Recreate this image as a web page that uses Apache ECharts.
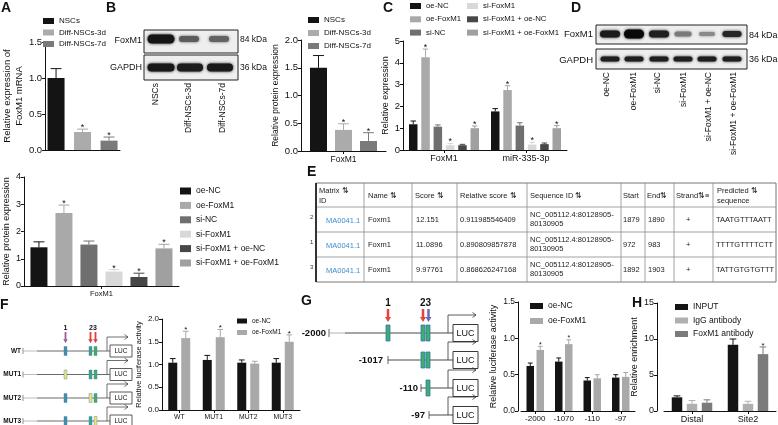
<!DOCTYPE html>
<html><head><meta charset="utf-8">
<script src="https://cdn.jsdelivr.net/npm/echarts@6/dist/echarts.min.js"></script>
<style>html,body{margin:0;padding:0;background:#fff}#c{width:778px;height:425px}</style>
</head><body><div id="c"></div>
<script>
// ================= DATA =================
const groupsSix = ['oe-NC','oe-FoxM1','si-NC','si-FoxM1','si-FoxM1 + oe-NC','si-FoxM1 + oe-FoxM1'];
const sixColors = ['#141414','#a9a9a9','#6f6f6f','#d8d8d8','#474747','#a0a0a0'];

// Panel A – FoxM1 mRNA
const aSeries = ['NSCs','Diff-NSCs-3d','Diff-NSCs-7d'];
const aValues = [1.0, 0.25, 0.13];
const aErrors = [1.13, 0.29, 0.18];
const aStars  = [0, 1, 1];
const aTicks  = [0, 0.5, 1.0, 1.5];

// Panel B – blot + protein bar
const bLanes = ['NSCs','Diff-NSCs-3d','Diff-NSCs-7d'];
const bCategories = ['FoxM1'];
const bValues = [1.5, 0.38, 0.18];
const bErrors = [1.72, 0.49, 0.33];
const bStars  = [0, 1, 1];
const bTicks  = [0, 0.5, 1.0, 1.5, 2.0];

// Panel C – relative expression
const cCategories = ['FoxM1','miR-335-3p'];
const cValues = [[1.18,1.77],[4.25,2.75],[1.07,1.12],[0.22,0.25],[0.22,0.27],[1.0,1.0]];
const cErrors = [[1.33,1.90],[4.63,2.95],[1.15,1.25],[0.30,0.35],[0.26,0.32],[1.10,1.12]];
const cStars  = [[0,0],[1,1],[0,0],[1,1],[0,0],[1,1]];
const cTicks  = [0,1,2,3,4,5];

// Panel D – blot lanes
const dLanes = groupsSix;

// Bottom-left – relative protein expression
const pCategories = ['FoxM1'];
const pValues = [1.42, 2.68, 1.52, 0.53, 0.33, 1.38];
const pErrors = [1.62, 2.97, 1.65, 0.60, 0.47, 1.53];
const pStars  = [0, 1, 0, 1, 1, 1];
const pTicks  = [0,1,2,3,4];

// Panel E – table
const tHeaders   = ['Matrix ⇅\nID','Name ⇅','Score ⇅','Relative score ⇅','Sequence ID ⇅','Start','End⇅','Strand⇅≡','Predicted ⇅\nsequence'];
const tRowIds    = ['2','1','3'];
const tMatrix    = ['MA0041.1','MA0041.1','MA0041.1'];
const tNames     = ['Foxm1','Foxm1','Foxm1'];
const tScores    = ['12.151','11.0896','9.97761'];
const tRelScores = ['0.911985546409','0.890809857878','0.868626247168'];
const tSeqIds    = ['NC_005112.4:80128905-\n80130905','NC_005112.4:80128905-\n80130905','NC_005112.4:80128905-\n80130905'];
const tStarts    = ['1879','972','1892'];
const tEnds      = ['1890','983','1903'];
const tStrands   = ['+','+','+'];
const tPredicted = ['TAATGTTTAATT','TTTTGTTTTCTT','TATTGTGTGTTT'];

// Panel F – luciferase (constructs)
const fCategories = ['WT','MUT1','MUT2','MUT3'];
const fSeries = ['oe-NC','oe-FoxM1'];
const fValues = [[1.04,1.10,1.04,1.04],[1.58,1.60,1.02,1.50]];
const fErrors = [[1.13,1.20,1.10,1.13],[1.73,1.77,1.07,1.65]];
const fStars  = [[0,0,0,0],[1,1,0,1]];
const fMutated = [-1, 0, 1, 2];
const fSites = ['1','23'];

// Panel G – luciferase (truncations)
const gConstructs = ['-2000','-1017','-110','-97'];
const gSitesPresent = [[0,1,2],[1,2],[2],[]];
const gCategories = ['-2000','-1070','-110','-97'];
const gSeries = ['oe-NC','oe-FoxM1'];
const gValues = [[0.62,0.68,0.42,0.46],[0.84,0.92,0.45,0.47]];
const gErrors = [[0.66,0.73,0.46,0.50],[0.89,0.98,0.50,0.53]];
const gStars  = [[0,0,0,0],[1,1,0,0]];

// Panel H – ChIP enrichment
const hCategories = ['Distal','Site2'];
const hSeries = ['INPUT','IgG antibody','FoxM1 antibody'];
const hValues = [[1.9,9.2],[1.0,1.0],[1.15,7.9]];
const hErrors = [[2.1,10.0],[1.45,1.35],[1.55,8.9]];
const hStars  = [[0,0],[0,0],[0,1]];

// ================= BUILD =================
const FONT = "'Liberation Sans', Arial, sans-serif";
const grids=[], xAxes=[], yAxes=[], series=[], legends=[], G=[];

function addPanel(p){
  const gi = grids.length, n = p.names.length, w = p.barW, g = p.gap;
  grids.push({left:p.left, top:p.top, width:p.width, height:p.height});
  xAxes.push({gridIndex:gi, type:'category', data:p.categories,
    axisLine:{show:true, lineStyle:{color:'#111', width:1}},
    axisTick:{show:p.xTick!==false, alignWithLabel:true, length:3, lineStyle:{color:'#111'}},
    axisLabel:{show:!!p.xFont, fontSize:p.xFont||8, color:'#111', margin:4, interval:0, fontFamily:FONT},
    splitLine:{show:false}});
  yAxes.push({gridIndex:gi, type:'value', min:p.ticks[0], max:p.ticks[p.ticks.length-1], interval:p.ticks[1]-p.ticks[0],
    offset:p.yOffset||0, name:p.yName, nameLocation:'middle', nameGap:p.nameGap,
    nameTextStyle:{fontSize:p.nameFont, color:'#111', fontFamily:FONT, lineHeight:p.nameLH||(p.nameFont+2)},
    axisLine:{show:true, lineStyle:{color:'#111', width:1}},
    axisTick:{show:true, length:3, lineStyle:{color:'#111'}},
    axisLabel:{fontSize:p.yFont, color:'#111', margin:3, fontFamily:FONT, formatter:v=>v.toFixed(p.dec)},
    splitLine:{show:false}});
  const errData=[];
  p.names.forEach((nm,s)=>{
    series.push({type:'bar', name:nm, xAxisIndex:gi, yAxisIndex:gi, barWidth:w, barGap:(g/w*100)+'%',
      itemStyle:{color:p.colors[s]}, data:p.values[s], silent:true, animation:false});
    p.values[s].forEach((v,c)=>errData.push([c, v, p.errors[s][c], s, p.stars[s][c]?1:0]));
  });
  series.push({type:'custom', name:'err'+gi, xAxisIndex:gi, yAxisIndex:gi, data:errData, encode:{x:0,y:2}, silent:true, z:3, animation:false,
    renderItem:(params, api)=>{
      const c=api.value(0), v=api.value(1), e=api.value(2), s=api.value(3), st=api.value(4);
      const base=api.coord([c,0]);
      const total=n*w+(n-1)*g;
      const x=base[0]-total/2+s*(w+g)+w/2;
      const yv=api.coord([c,v])[1], ye=api.coord([c,e])[1];
      const col=p.colors[s], cw=w*0.32;
      const ch=[
        {type:'line', shape:{x1:x,y1:yv,x2:x,y2:ye}, style:{stroke:col,lineWidth:1}},
        {type:'line', shape:{x1:x-cw,y1:ye,x2:x+cw,y2:ye}, style:{stroke:col,lineWidth:1}}
      ];
      if(st) ch.push({type:'text', style:{text:'*', x:x, y:ye-1.5, align:'center', verticalAlign:'middle', fontSize:p.starFont||9, fill:'#111', fontFamily:FONT}});
      return {type:'group', children:ch};
    }});
}
function addLegend(names, left, top, o){
  legends.push({data:names, orient:'vertical', left, top, itemWidth:o.iw, itemHeight:o.ih, itemGap:o.gap,
    icon:'rect', selectedMode:false, padding:0,
    textStyle:{fontSize:o.fs, lineHeight:o.lh, color:'#111', fontFamily:FONT}});
}

// graphic helpers
function txt(x,y,text,o={}){ G.push({type:'text', x, y, rotation:o.rot||0, silent:true, z:20,
  style:{text, fill:o.color||'#111', fontSize:o.size||8, fontFamily:FONT, fontWeight:o.bold?'bold':'normal',
  align:o.align||'left', verticalAlign:o.va||'middle', lineHeight:o.lh||undefined}}); }
function rect(x,y,w,h,o={}){ G.push({type:'rect', silent:true, z:o.z||10, shape:{x,y,width:w,height:h,r:o.r||0},
  style:{fill:o.fill||'none', stroke:o.stroke||'none', lineWidth:o.lw||1, shadowBlur:o.blur||0, shadowColor:o.blur?(o.fill):'transparent'}}); }
function line(x1,y1,x2,y2,o={}){ G.push({type:'line', silent:true, z:o.z||10, shape:{x1,y1,x2,y2}, style:{stroke:o.color||'#111', lineWidth:o.lw||1}}); }
function pline(points,o={}){ G.push({type:'polyline', silent:true, z:o.z||10, shape:{points}, style:{stroke:o.color||'#111', lineWidth:o.lw||1, fill:'none'}}); }
function poly(points,o={}){ G.push({type:'polygon', silent:true, z:o.z||10, shape:{points}, style:{fill:o.fill||'#111'}}); }
function downArrow(cx,y0,y1,color,sw,hw){ const hh=hw*0.85;
  poly([[cx-sw/2,y0],[cx+sw/2,y0],[cx+sw/2,y1-hh],[cx+hw/2,y1-hh],[cx,y1],[cx-hw/2,y1-hh],[cx-sw/2,y1-hh]],{fill:color}); }
function promoterArrow(x,yl,yt,xe,lw){ pline([[x,yl],[x,yt],[xe,yt]],{color:'#333',lw:lw});
  pline([[xe-3.5,yt-2.5],[xe,yt],[xe-3.5,yt+2.5]],{color:'#333',lw:lw}); }
function band(cx,cy,w,h,color){ rect(cx-w/2, cy-h/2, w, h, {fill:color, r:h/2, blur:3, z:12}); }

// ---- panel letters
[['A',1,1],['B',106,1],['C',383,1],['D',571,1],['E',307,165],['F',0,298],['G',301,294],['H',632,296]]
  .forEach(([t,x,y])=>txt(x,y,t,{size:14,bold:true,va:'top'}));

// ---- A
addPanel({left:37, top:42, width:83, height:108, categories:[''], names:aSeries, colors:['#141414','#ababab','#7a7a7a'],
  values:aValues.map(v=>[v]), errors:aErrors.map(v=>[v]), stars:aStars.map(v=>[v]),
  ticks:aTicks, dec:1, barW:17, gap:9.5, xTick:false, xFont:0, yFont:9.5,
  yName:'Relative expression of\nFoxM1 mRNA', nameGap:14, nameFont:9.5, nameLH:12});
addLegend(aSeries, 43, 16, {iw:11, ih:6, gap:1.5, fs:8, lh:10});

// ---- B blot
rect(144,30,94,23,{fill:'#eeeeee', stroke:'#222', lw:1});
rect(144,55,94,25,{fill:'#eeeeee', stroke:'#222', lw:1});
band(161,39,27,9,'#151515'); band(189,39,20,6,'#5c5c5c'); band(219,39,20,6,'#626262');
band(161,67.5,27,8,'#181818'); band(190,67.5,26,8,'#1c1c1c'); band(220,67.5,26,8,'#1a1a1a');
txt(142,41,'FoxM1',{align:'right',size:9}); txt(142,68,'GAPDH',{align:'right',size:9});
txt(240,40,'84 kDa',{size:8.5}); txt(240,68,'36 kDa',{size:8.5});
[155.5,189,223].forEach((x,i)=>txt(x,83,bLanes[i],{rot:Math.PI/2, align:'right', size:8.5}));

// ---- B bar
addPanel({left:301, top:40, width:85, height:111, categories:bCategories, names:aSeries, colors:['#141414','#ababab','#7a7a7a'],
  values:bValues.map(v=>[v]), errors:bErrors.map(v=>[v]), stars:bStars.map(v=>[v]),
  ticks:bTicks, dec:1, barW:17, gap:8, xFont:8.5, yFont:9.5,
  yName:'Relative protein expression', nameGap:20, nameFont:8.5});
addLegend(aSeries, 308, 15, {iw:11, ih:6, gap:3, fs:8, lh:10});

// ---- C
addPanel({left:403, top:41, width:164, height:109, categories:cCategories, names:groupsSix, colors:sixColors,
  values:cValues, errors:cErrors, stars:cStars, ticks:cTicks, dec:0, barW:8.5, gap:3.8, xFont:9, yFont:9.5,
  yName:'Relative expression', nameGap:12, nameFont:9});
addLegend(groupsSix.slice(0,3), 410, 1, {iw:11, ih:6, gap:3.3, fs:7.8, lh:10});
addLegend(groupsSix.slice(3), 467, 1, {iw:11, ih:6, gap:3.3, fs:7.8, lh:10});

// ---- D blot
rect(596,25,151,19,{fill:'#eeeeee', stroke:'#222', lw:1});
rect(596,49,151,20,{fill:'#eeeeee', stroke:'#222', lw:1});
const dBandX=[610,634,659,683,707,732];
const dFox=[['#1c1c1c',20,7],['#080808',20,9],['#202020',20,7],['#7a7a7a',17,5],['#8a8a8a',16,4],['#262626',19,6]];
dBandX.forEach((x,i)=>{ band(x,34,dFox[i][1],dFox[i][2],dFox[i][0]); band(x,59,19,5,'#1e1e1e'); });
txt(593,34,'FoxM1',{align:'right',size:9.5}); txt(593,60,'GAPDH',{align:'right',size:9.5});
txt(749,36,'84 kDa',{size:9}); txt(749,60,'36 kDa',{size:9});
[607,634,658,684,709,734].forEach((x,i)=>txt(x,72,dLanes[i],{rot:Math.PI/2, align:'right', size:8.5}));

// ---- bottom-left protein
addPanel({left:23, top:177, width:156, height:109, categories:pCategories, names:groupsSix, colors:sixColors,
  values:pValues.map(v=>[v]), errors:pErrors.map(v=>[v]), stars:pStars.map(v=>[v]),
  ticks:pTicks, dec:0, barW:17, gap:8, xFont:7.5, yFont:9,
  yName:'Relative protein expression', nameGap:11, nameFont:9});
addLegend(groupsSix, 180, 186, {iw:11, ih:7, gap:4.4, fs:8.5, lh:10});

// ---- E table
const colX=[316,364,412,457,527,621,645,674,713,776];
const rowY=[183,207,232,257,282];
rect(colX[0],rowY[0],colX[9]-colX[0],rowY[4]-rowY[0],{stroke:'#777',lw:1,fill:'#fff',z:8});
for(let i=1;i<9;i++) line(colX[i],rowY[0],colX[i],rowY[4],{color:'#8a8a8a',lw:0.8});
for(let j=1;j<4;j++) line(colX[0],rowY[j],colX[9],rowY[j],{color:'#8a8a8a',lw:0.8});
line(colX[0],rowY[0],colX[0],rowY[4],{color:'#333',lw:2});
const hdrX=[319,368,415,460,530,623,647,676,717];
tHeaders.forEach((h,i)=>txt(hdrX[i],196,h,{size:7.5,lh:10.5,color:'#222'}));
const cellX=[326,368,416,460,530,623,648,686,716];
const cols=[tMatrix,tNames,tScores,tRelScores,tSeqIds,tStarts,tEnds,tStrands,tPredicted];
tRowIds.forEach((r,j)=>{
  const cy=(rowY[j+1]+rowY[j+2])/2;
  txt(310,cy-2,r,{size:6,color:'#333'});
  cols.forEach((col,i)=>txt(cellX[i],cy+(i===0?1:0),col[j],{size:7.5,lh:9.5,color:i===0?'#3d8fd1':'#222'}));
});

// ---- F diagram
const fRowsY=[351,374.5,398,421];
const fSiteX=[65.5,90.5,95.5];
const fSiteCol=['#3f8fa8','#39a487','#43ad5f'];
fCategories.forEach((lab,i)=>{
  const y=fRowsY[i];
  txt(21,y,lab,{align:'right',size:6.5,bold:true});
  line(23,y-3,23,y+3,{color:'#777',lw:0.8});
  line(23,y,37,y,{color:'#aaa',lw:0.8});
  line(37,y,110,y,{color:'#444',lw:0.8});
  rect(110,y-6,22,12,{stroke:'#333',lw:0.8,fill:'#fff'});
  txt(121,y,'LUC',{align:'center',size:6.5});
  promoterArrow(107,y,y-14,128,0.7);
  fSiteX.forEach((x,k)=>rect(x-1.5,y-4.5,3,9,{fill:fMutated[i]===k?'#ebe37a':fSiteCol[k],stroke:'#4a7fb0',lw:0.4}));
});
txt(65.5,328,fSites[0],{align:'center',size:7,bold:true});
txt(93,328,fSites[1],{align:'center',size:7,bold:true});
downArrow(65.5,332,343,'#9a5f95',1.8,4.5);
downArrow(90.5,332,343,'#e03c3c',1.8,4.5);
downArrow(95.5,332,343,'#e03c3c',1.8,4.5);

// ---- F bar
addPanel({left:162, top:319, width:138, height:91, categories:fCategories, names:fSeries, colors:['#141414','#a9a9a9'],
  values:fValues, errors:fErrors, stars:fStars, ticks:[0,0.5,1.0,1.5,2.0], dec:1, barW:9, gap:4, xFont:6.8, yFont:8,
  yName:'Relative luciferase activity', nameGap:15, nameFont:7.5, starFont:8});
addLegend(fSeries, 237, 317, {iw:10, ih:5, gap:3.5, fs:6.5, lh:8});

// ---- G diagram
const gRowsY=[333,360,388,415];
const gLabelRight=[326,383,418,425];
const gTickX=[329,388,421,429];
const gSiteX=[388,423,428];
gConstructs.forEach((lab,i)=>{
  const y=gRowsY[i];
  txt(gLabelRight[i],y,lab,{align:'right',size:9.5,bold:true});
  line(gTickX[i],y-4,gTickX[i],y+4,{color:'#555',lw:0.9});
  if(i===0){ line(gTickX[i],y,345,y,{color:'#aaa',lw:0.9}); line(345,y,453,y,{color:'#333',lw:0.9}); }
  else line(gTickX[i],y,453,y,{color:'#333',lw:0.9});
  rect(453,y-8.5,25,17,{stroke:'#222',lw:0.9,fill:'#fff'});
  txt(465.5,y+0.5,'LUC',{align:'center',size:9});
  promoterArrow(448,y,y-18,476,0.8);
  gSitesPresent[i].forEach(k=>rect(gSiteX[k]-2,y-8,4,16,{fill:'#3dae6b',stroke:'#3a74b8',lw:0.8}));
});
txt(388,303,fSites[0],{align:'center',size:10,bold:true});
txt(425.5,303,fSites[1],{align:'center',size:10,bold:true});
downArrow(388,309,322,'#e0463c',2.5,6);
downArrow(423,309,322,'#e0463c',2.5,6);
downArrow(428.5,309,322,'#6f68b5',2.5,6);

// ---- G bar
addPanel({left:521, top:302, width:114, height:109, categories:gCategories, names:gSeries, colors:['#141414','#a9a9a9'],
  values:gValues, errors:gErrors, stars:gStars, ticks:[0,0.5,1.0,1.5], dec:1, barW:7.5, gap:2.5, xFont:8, yFont:8.5, yOffset:3,
  yName:'Relative luciferase activity', nameGap:18, nameFont:9, starFont:7});
addLegend(gSeries, 530, 301, {iw:13, ih:6, gap:5, fs:8.5, lh:10});

// ---- H bar
addPanel({left:664, top:303, width:112, height:108, categories:hCategories, names:hSeries, colors:['#141414','#b0b0b0','#7b7b7b'],
  values:hValues, errors:hErrors, stars:hStars, ticks:[0,5,10,15], dec:0, barW:10.5, gap:4.5, xFont:9, yFont:9, yOffset:7,
  yName:'Relative enrichment', nameGap:10, nameFont:9, starFont:8});
addLegend(hSeries, 675, 302, {iw:13, ih:6, gap:3.5, fs:8.5, lh:10});

const chart = echarts.init(document.getElementById('c'), null, {renderer:'canvas', width:778, height:425});
chart.setOption({
  animation:false,
  backgroundColor:'#ffffff',
  textStyle:{fontFamily:FONT},
  grid:grids, xAxis:xAxes, yAxis:yAxes, series:series, legend:legends,
  graphic:{elements:G}
});
</script></body></html>
